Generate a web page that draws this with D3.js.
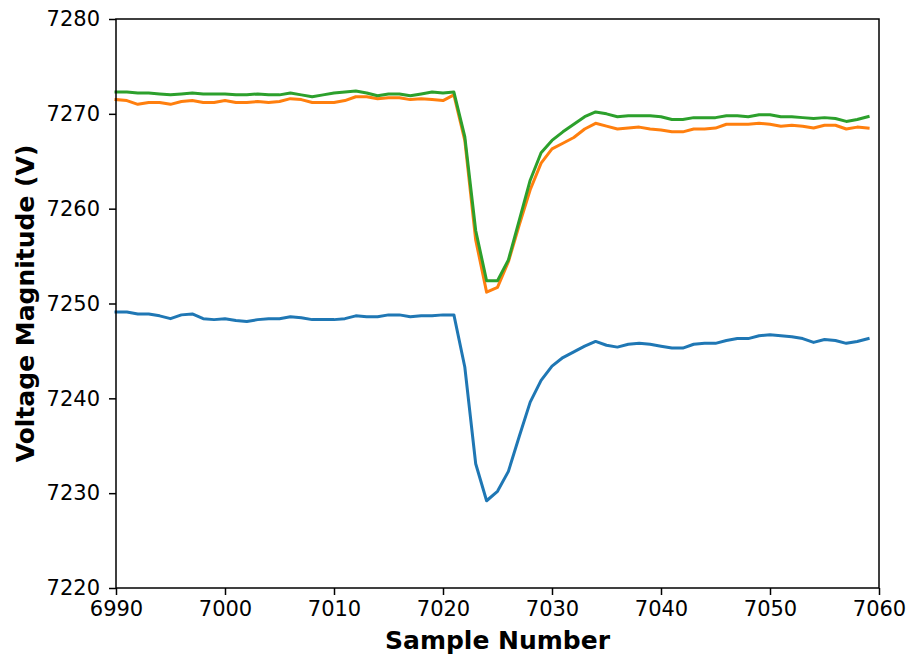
<!DOCTYPE html>
<html>
<head>
<meta charset="utf-8">
<script src="https://cdn.jsdelivr.net/npm/d3@7"></script>
<style>
  html, body { margin: 0; padding: 0; background: #ffffff; }
  text { font-family: "DejaVu Sans", sans-serif; }
</style>
</head>
<body>
<div id="chart"></div>
<script>
// sample numbers 6990..7059
const samples = d3.range(6990, 7060);

const phaseA = [
  7249.1, 7249.1, 7248.9, 7248.9, 7248.7, 7248.4, 7248.8, 7248.9, 7248.4, 7248.3,
  7248.4, 7248.2, 7248.1, 7248.3, 7248.4, 7248.4, 7248.6, 7248.5, 7248.3, 7248.3,
  7248.3, 7248.4, 7248.7, 7248.6, 7248.6, 7248.8, 7248.8, 7248.6, 7248.7, 7248.7,
  7248.8, 7248.8, 7243.3, 7233.1, 7229.2, 7230.2, 7232.3, 7236.0, 7239.6, 7241.9,
  7243.4, 7244.3, 7244.9, 7245.5, 7246.0, 7245.6, 7245.4, 7245.7, 7245.8, 7245.7,
  7245.5, 7245.3, 7245.3, 7245.7, 7245.8, 7245.8, 7246.1, 7246.3, 7246.3, 7246.6,
  7246.7, 7246.6, 7246.5, 7246.3, 7245.9, 7246.2, 7246.1, 7245.8, 7246.0, 7246.3
];

const phaseB = [
  7271.5, 7271.4, 7271.0, 7271.2, 7271.2, 7271.0, 7271.3, 7271.4, 7271.2, 7271.2,
  7271.4, 7271.2, 7271.2, 7271.3, 7271.2, 7271.3, 7271.6, 7271.5, 7271.2, 7271.2,
  7271.2, 7271.4, 7271.8, 7271.8, 7271.6, 7271.7, 7271.7, 7271.5, 7271.6, 7271.5,
  7271.4, 7272.0, 7267.2, 7256.7, 7251.2, 7251.7, 7254.4, 7258.3, 7262.0, 7264.8,
  7266.3, 7266.9, 7267.5, 7268.4, 7269.0, 7268.7, 7268.4, 7268.5, 7268.6, 7268.4,
  7268.3, 7268.1, 7268.1, 7268.4, 7268.4, 7268.5, 7268.9, 7268.9, 7268.9, 7269.0,
  7268.9, 7268.7, 7268.8, 7268.7, 7268.5, 7268.8, 7268.8, 7268.4, 7268.6, 7268.5
];

const phaseC = [
  7272.3, 7272.3, 7272.2, 7272.2, 7272.1, 7272.0, 7272.1, 7272.2, 7272.1, 7272.1,
  7272.1, 7272.0, 7272.0, 7272.1, 7272.0, 7272.0, 7272.2, 7272.0, 7271.8, 7272.0,
  7272.2, 7272.3, 7272.4, 7272.2, 7271.9, 7272.1, 7272.1, 7271.9, 7272.1, 7272.3,
  7272.2, 7272.3, 7267.6, 7257.7, 7252.4, 7252.4, 7254.6, 7258.8, 7263.0, 7265.9,
  7267.2, 7268.1, 7268.9, 7269.7, 7270.2, 7270.0, 7269.7, 7269.8, 7269.8, 7269.8,
  7269.7, 7269.4, 7269.4, 7269.6, 7269.6, 7269.6, 7269.8, 7269.8, 7269.7, 7269.9,
  7269.9, 7269.7, 7269.7, 7269.6, 7269.5, 7269.6, 7269.5, 7269.2, 7269.4, 7269.7
];

const seriesColors = ['#1f77b4', '#ff7f0e', '#2ca02c'];
const xTicks = [6990, 7000, 7010, 7020, 7030, 7040, 7050, 7060];
const yTicks = [7220, 7230, 7240, 7250, 7260, 7270, 7280];

const W = 907, H = 655;
const margin = { top: 19, right: 28, bottom: 67, left: 116 };
const width = W - margin.left - margin.right;
const height = H - margin.top - margin.bottom;

const svg = d3.select('#chart').append('svg')
  .attr('width', W)
  .attr('height', H);

const g = svg.append('g')
  .attr('transform', `translate(${margin.left},${margin.top})`);

const x = d3.scaleLinear().domain([6990, 7060]).range([0, width]);
const y = d3.scaleLinear().domain([7220, 7280]).range([height, 0]);

// lines
const line = d3.line()
  .x((d, i) => x(samples[i]))
  .y(d => y(d));

[phaseA, phaseB, phaseC].forEach((vals, i) => {
  g.append('path')
    .datum(vals)
    .attr('d', line)
    .attr('fill', 'none')
    .attr('stroke', seriesColors[i])
    .attr('stroke-width', 3)
    .attr('stroke-linejoin', 'round')
    .attr('stroke-linecap', 'square');
});

// axes
const xAxis = g.append('g')
  .attr('transform', `translate(0,${height})`)
  .call(d3.axisBottom(x).tickValues(xTicks).tickFormat(d3.format('d')).tickSizeOuter(0).tickSize(7).tickPadding(6));
const yAxis = g.append('g')
  .call(d3.axisLeft(y).tickValues(yTicks).tickFormat(d3.format('d')).tickSizeOuter(0).tickSize(7).tickPadding(9));

[xAxis, yAxis].forEach(ax => {
  ax.select('.domain').remove();
  ax.selectAll('.tick line').attr('stroke', '#000').attr('stroke-width', 1.5);
  ax.selectAll('.tick text')
    .attr('fill', '#000')
    .style('font-family', '"DejaVu Sans", sans-serif')
    .style('font-size', '21px');
});

// frame
g.append('rect')
  .attr('x', 0)
  .attr('y', 0)
  .attr('width', width)
  .attr('height', height)
  .attr('fill', 'none')
  .attr('stroke', '#000')
  .attr('stroke-width', 1.5);

// axis labels
svg.append('text')
  .attr('x', margin.left + width / 2)
  .attr('y', 649)
  .attr('text-anchor', 'middle')
  .style('font-size', '25px')
  .style('font-weight', 'bold')
  .text('Sample Number');

svg.append('text')
  .attr('transform', `translate(34,${margin.top + height / 2}) rotate(-90)`)
  .attr('text-anchor', 'middle')
  .style('font-size', '25px')
  .style('font-weight', 'bold')
  .text('Voltage Magnitude (V)');
</script>
</body>
</html>
